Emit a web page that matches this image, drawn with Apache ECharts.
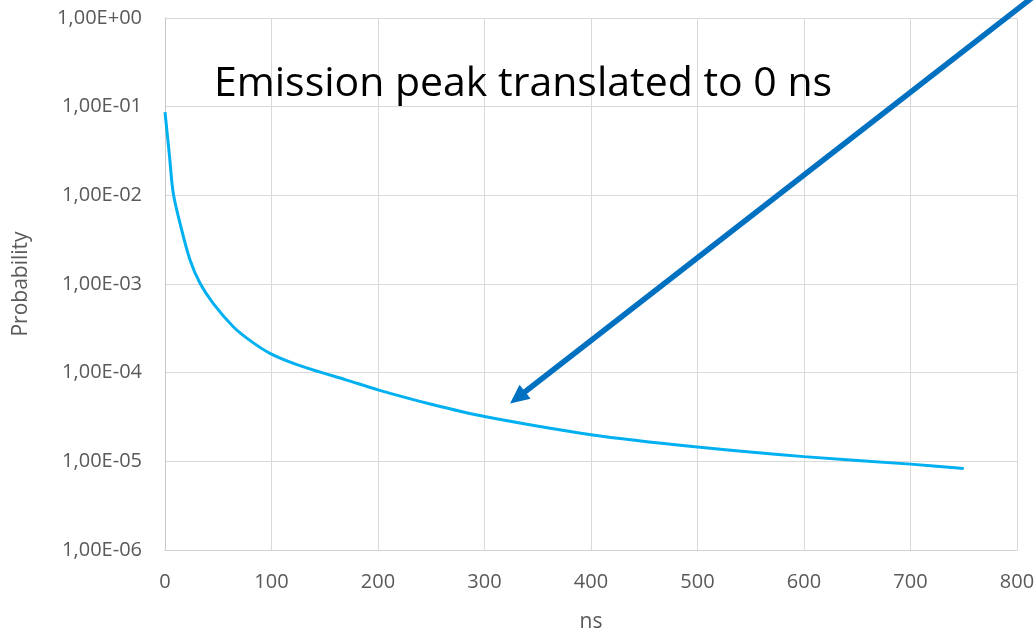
<!DOCTYPE html>
<html>
<head>
<meta charset="utf-8">
<script src="https://cdn.jsdelivr.net/npm/echarts@6/dist/echarts.min.js"></script>
<style>html,body{margin:0;padding:0;background:#fff;}#c{width:1035px;height:633px;}</style>
</head>
<body>
<div id="c"></div>
<script>
// Data
const timeNs = [0, 4, 7.8, 15.6, 23.5, 32.9, 45.4, 64.1, 80, 98.6, 120, 145, 170, 200, 250, 300, 400, 500, 600, 700, 750];
const probability = [0.087, 0.0296, 0.0105, 0.0041, 0.00187, 0.00102, 0.0006, 0.00033, 0.00023, 0.000165, 0.000128, 0.000102, 0.000083, 0.000064, 0.000044, 0.000032, 0.00002, 0.0000145, 0.0000113, 0.0000093, 0.0000083];
const annotationText = 'Emission peak translated to 0 ns';
const arrowTip = [324, 4.5e-5];
const arrowTail = [817, 1.8];
const xTicks = [0, 100, 200, 300, 400, 500, 600, 700, 800];

const chart = echarts.init(document.getElementById('c'), null, {renderer: 'canvas'});
const labelColor = '#595959';
const font = "'Open Sans', 'Noto Sans', sans-serif";

function fmtSci(v) {
  const e = Math.round(Math.log10(v));
  const sign = e < 0 ? '-' : '+';
  const a = Math.abs(e);
  return '1,00E' + sign + (a < 10 ? '0' + a : a);
}

chart.setOption({
  animation: false,
  grid: {left: 165, right: 18, top: 18, bottom: 83, containLabel: false, outerBoundsMode: 'none'},
  xAxis: {
    type: 'value', min: xTicks[0], max: xTicks[xTicks.length - 1], interval: 100,
    name: 'ns', nameLocation: 'middle', nameGap: 62,
    nameTextStyle: {color: labelColor, fontSize: 21, fontFamily: font},
    axisLine: {show: true, lineStyle: {color: '#d0d0d0', width: 1}},
    axisTick: {show: false},
    axisLabel: {color: labelColor, fontSize: 20, fontFamily: font, margin: 22},
    splitLine: {show: true, lineStyle: {color: '#d9d9d9', width: 1}}
  },
  yAxis: {
    type: 'log', logBase: 10, min: 1e-6, max: 1,
    name: 'Probability', nameLocation: 'middle', nameGap: 133, nameRotate: 90,
    nameTextStyle: {color: labelColor, fontSize: 21, fontFamily: font},
    axisLine: {show: true, lineStyle: {color: '#c8c8c8', width: 1}},
    axisTick: {show: false},
    axisLabel: {color: labelColor, fontSize: 20, fontFamily: font, margin: 23, formatter: fmtSci},
    splitLine: {show: true, lineStyle: {color: '#d9d9d9', width: 1}}
  },
  series: [{
    type: 'line',
    data: timeNs.map((t, i) => [t, probability[i]]),
    smooth: 0.3,
    showSymbol: false,
    lineStyle: {color: '#00B0F0', width: 3},
    itemStyle: {color: '#00B0F0'}
  }]
});

function drawAnnotations() {
  const tip = chart.convertToPixel({gridIndex: 0}, arrowTip);
  const tail = chart.convertToPixel({gridIndex: 0}, arrowTail);
  const dx = tip[0] - tail[0], dy = tip[1] - tail[1];
  const len = Math.sqrt(dx * dx + dy * dy);
  const ux = dx / len, uy = dy / len;
  const headLen = 19, headHalf = 9;
  const base = [tip[0] - ux * headLen, tip[1] - uy * headLen];
  const px = -uy, py = ux;
  chart.setOption({
    graphic: [
      {
        type: 'text', left: 214, top: 64, z: 100,
        style: {text: annotationText, fill: '#000', fontSize: 41, fontFamily: font}
      },
      {
        type: 'line', z: 100,
        shape: {x1: tail[0], y1: tail[1], x2: base[0] + ux * 2, y2: base[1] + uy * 2},
        style: {stroke: '#0070C0', lineWidth: 5.5}
      },
      {
        type: 'polygon', z: 100,
        shape: {points: [tip, [base[0] + px * headHalf, base[1] + py * headHalf], [base[0] - px * headHalf, base[1] - py * headHalf]]},
        style: {fill: '#0070C0'}
      }
    ]
  });
}
drawAnnotations();
</script>
</body>
</html>
